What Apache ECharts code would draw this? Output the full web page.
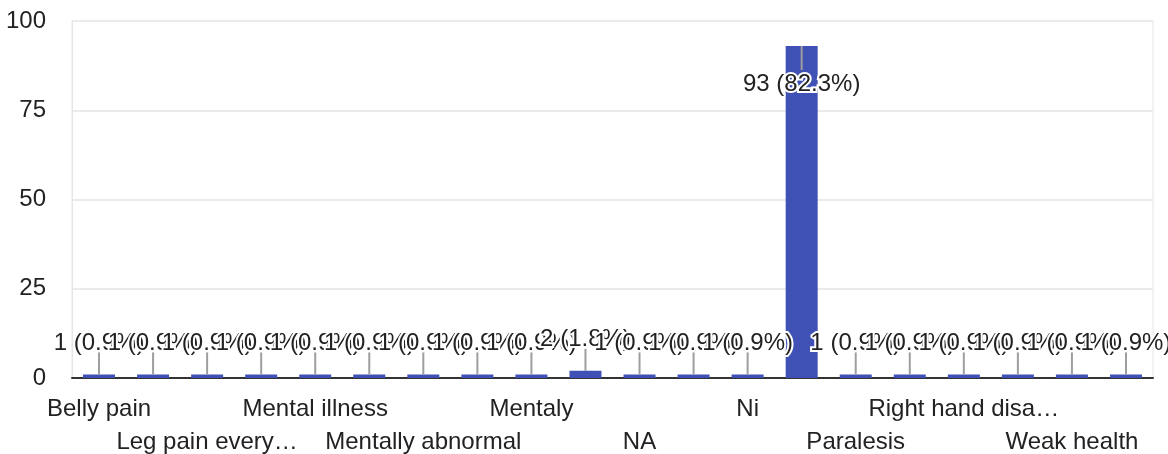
<!DOCTYPE html>
<html>
<head>
<meta charset="utf-8">
<script src="https://cdn.jsdelivr.net/npm/echarts@6/dist/echarts.min.js"></script>
<style>html,body{margin:0;padding:0;background:#fff;}#c{width:1168px;height:454px;}</style>
</head>
<body>
<div id="c"></div>
<script>
const categories = ["Belly pain","Body pain","Leg pain every…","Leg problem","Mental illness","Mental problem","Mentally abnormal","Mentally ill","Mentaly","Mentaly ill","NA","Neck pain","Ni","No","Paralesis","Polio","Right hand disa…","Speech problem","Weak health","Weakness"];
const counts = [1,1,1,1,1,1,1,1,1,2,1,1,1,93,1,1,1,1,1,1];
const percents = ["0.9%","0.9%","0.9%","0.9%","0.9%","0.9%","0.9%","0.9%","0.9%","1.8%","0.9%","0.9%","0.9%","82.3%","0.9%","0.9%","0.9%","0.9%","0.9%","0.9%"];
const yTicks = [0,25,50,75,100];

const FONT = '"Liberation Sans", Arial, sans-serif';
const chart = echarts.init(document.getElementById('c'));
chart.setOption({
  animation: false,
  grid: {left: 72, right: 15, top: 21, bottom: 76, show: true, borderColor: '#e6e6e6', borderWidth: 1,
         containLabel: false, outerBoundsMode: 'none'},
  xAxis: {
    type: 'category', data: categories,
    axisLine: {lineStyle: {color: '#333', width: 2}},
    axisTick: {show: false},
    axisLabel: {
      interval: 0, fontSize: 24, fontFamily: FONT, color: '#222', margin: 15, lineHeight: 33,
      formatter: (v, i) => i % 2 ? '' : ((i / 2) % 2 ? '\n' + v : v)
    }
  },
  yAxis: {
    type: 'value', min: yTicks[0], max: yTicks[yTicks.length - 1], interval: 25,
    axisLine: {show: true, lineStyle: {color: '#e6e6e6', width: 1}},
    axisTick: {show: false},
    splitLine: {lineStyle: {color: '#ebebeb', width: 2}},
    axisLabel: {fontSize: 24, fontFamily: FONT, color: '#222', margin: 26}
  },
  series: [
    {type: 'bar', data: counts, barWidth: 32, itemStyle: {color: '#3f51b5'}, z: 2},
    {
      type: 'custom', z: 5,
      data: counts.map((v, i) => [i, v]),
      renderItem: (params, api) => {
        const i = api.value(0), v = api.value(1);
        const p = api.coord([i, v]);
        const inside = v > 80;
        const x = p[0], y = p[1];
        const lineEnd = inside ? y + 24 : y - 22;
        const textY = inside ? y + 38 : y - 31;
        return {type: 'group', children: [
          {type: 'line', shape: {x1: x, y1: y, x2: x, y2: lineEnd}, style: {stroke: '#9e9e9e', lineWidth: 2}},
          {type: 'text', x: x, y: textY, style: {
            text: v + ' (' + percents[i] + ')', textAlign: 'center', textVerticalAlign: 'middle',
            font: '24px ' + FONT, fill: '#222', stroke: '#fff', lineWidth: 4
          }}
        ]};
      }
    }
  ]
});
</script>
</body>
</html>
